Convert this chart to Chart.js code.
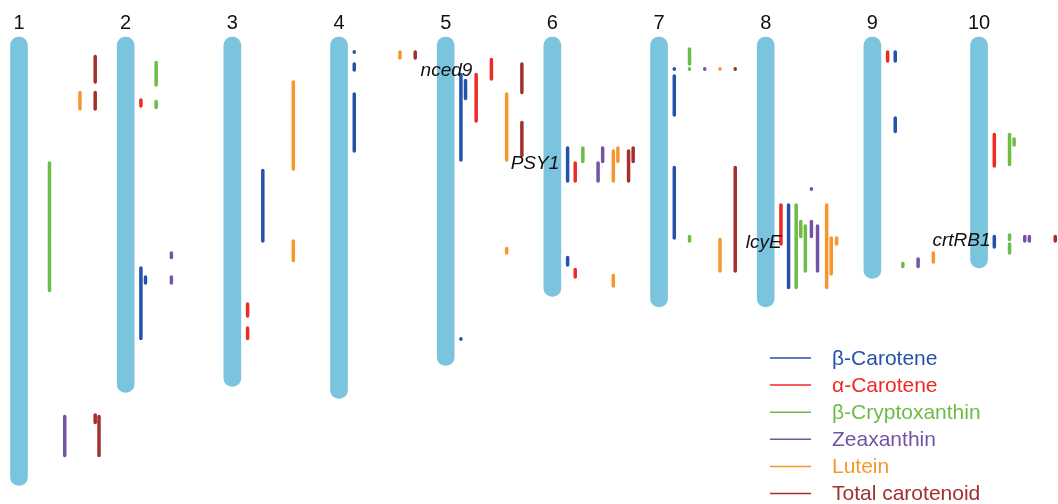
<!DOCTYPE html>
<html>
<head>
<meta charset="utf-8">
<script src="https://cdn.jsdelivr.net/npm/chart.js@4.4.1/dist/chart.umd.min.js"></script>
<style>
html,body{margin:0;padding:0;background:#fff;}
#wrap{width:1058px;height:504px;position:relative;}
</style>
</head>
<body>
<div id="wrap"><canvas id="c"></canvas></div>
<script>
// Chromosomes (names and lengths in map units, top = 0)
const chromosomes = ['1','2','3','4','5','6','7','8','9','10'];
const chromosomeLength = [299, 237, 233, 241, 219, 173, 180, 180, 161, 154];

// QTL intervals per trait: [chromosome, column, start, end]
const betaCarotene = [
  [2,1,154,201],[2,1.3,160,164],[3,2,89,136],[4,1,9.8,10.2],[4,1,18,22],[4,1,38,76],
  [5,1,25,82],[5,1.3,29,41],[5,1,201.1,201.5],[6,1,74,96],[6,1,147,152],
  [7,1,21.1,21.5],[7,1,26,52],[7,1,87,134],[8,1.5,112,167],[9,1.5,10,16],[9,1.5,54,63],[10,1,133,140]
];
const alphaCarotene = [
  [2,1,42,46],[3,1,178,186],[3,1,194,201],[5,2,25,56],[5,3,15,28],[6,1.5,84,96],[6,1.5,155,160],
  [8,1,112,138],[9,1,10,16],[10,1,65,86]
];
const betaCryptoxanthin = [
  [1,2,84,169],[2,2,17,32],[2,2,43,47],[6,2,74,83],[7,2,8,18],[7,2,21.1,21.5],[7,2,133,136],
  [8,2,112,167],[8,2.3,123,133],[8,2.6,126,156],[9,2,151,153],[10,2,65,85],[10,2.3,68,72],
  [10,2,132,135],[10,2,138,144]
];
const zeaxanthin = [
  [1,3,253,279],[2,3,144,147],[2,3,160,164],[6,3,84,96],[6,3.3,74,83],[7,3,21.1,21.5],
  [8,3,101.1,101.5],[8,3,123,133],[8,3.4,126,156],[9,3,148,153],[10,3,133,136],[10,3.3,133,136]
];
const lutein = [
  [1,4,37,48],[3,4,30,88],[3,4,136,149],[5,-3,10,14],[5,4,38,82],[5,4,141,144],[6,4,76,96],
  [6,4.3,74,83],[6,4,159,166],[7,4,21.1,21.5],[7,4,135,156],[8,4,112,167],[8,4.3,134,158],
  [8,4.65,134,138],[9,4,144,150]
];
const totalCarotenoid = [
  [1,5,13,30],[1,5,37,48],[1,5,252,257],[1,5.25,253,279],[5,-2,10,14],[5,5,18,37],[5,5,57,79],
  [6,5,76,96],[6,5.3,74,83],[7,5,21.1,21.5],[7,5,87,156],[10,5,133,136]
];

const traitNames = ['β-Carotene','α-Carotene','β-Cryptoxanthin','Zeaxanthin','Lutein','Total carotenoid'];
const traitData = [betaCarotene, alphaCarotene, betaCryptoxanthin, zeaxanthin, lutein, totalCarotenoid];
const traitColors = ['#2451ab','#ee2a24','#6bbd45','#7552a6','#f6972e','#a2302f'];

// Candidate genes: [name, chromosome, right-edge column, position]
const genes = [
  ['nced9', 5, 1.75, 22.5],
  ['PSY1', 6, 0.45, 84.5],
  ['lcyE', 8, 1.05, 137],
  ['crtRB1', 10, 0.75, 136]
];

const laneStep = 1/7;

const chromDataset = {
  type: 'bar',
  label: 'chromosomes',
  data: chromosomes.map((c, i) => ({x: i + 1, y: [0, chromosomeLength[i]]})),
  backgroundColor: '#7ac4de',
  borderWidth: 0,
  borderRadius: 9,
  borderSkipped: false,
  barThickness: 17,
  order: 10
};

const qtlDatasets = traitData.map((arr, t) => {
  const pts = [];
  arr.forEach(([chr, lane, s, e]) => {
    const x = chr + lane * laneStep;
    pts.push({x, y: s}, {x, y: e}, {x, y: null});
  });
  return {
    type: 'scatter',
    label: traitNames[t],
    data: pts,
    showLine: true,
    spanGaps: false,
    borderColor: traitColors[t],
    backgroundColor: traitColors[t],
    borderWidth: 3.5,
    borderCapStyle: 'round',
    pointRadius: 0,
    pointHoverRadius: 0,
    order: 1
  };
});

const labelPlugin = {
  id: 'labels',
  afterDatasetsDraw(chart) {
    const {ctx, scales: {x, y}} = chart;
    ctx.save();
    // chromosome numbers
    ctx.fillStyle = '#111';
    ctx.font = '20px "Liberation Sans", Arial, sans-serif';
    ctx.textAlign = 'center';
    ctx.textBaseline = 'middle';
    chromosomes.forEach((c, i) => {
      ctx.fillText(c, x.getPixelForValue(i + 1), y.getPixelForValue(-9.2));
    });
    // gene names
    ctx.font = 'italic 19px "Liberation Sans", Arial, sans-serif';
    ctx.textAlign = 'right';
    genes.forEach(([name, chr, lane, pos]) => {
      ctx.fillText(name, x.getPixelForValue(chr + lane * laneStep), y.getPixelForValue(pos));
    });
    // legend
    const lx = 770, ly = 358, gap = 27.1;
    ctx.font = '21px "Liberation Sans", Arial, sans-serif';
    ctx.textAlign = 'left';
    chart.data.datasets.slice(1).forEach((ds, i) => {
      const yy = ly + i * gap;
      ctx.strokeStyle = ds.borderColor;
      ctx.lineWidth = 1.5;
      ctx.beginPath();
      ctx.moveTo(lx, yy);
      ctx.lineTo(lx + 41, yy);
      ctx.stroke();
      ctx.fillStyle = ds.borderColor;
      ctx.fillText(ds.label, lx + 62, yy + 1);
    });
    ctx.restore();
  }
};

new Chart(document.getElementById('c'), {
  type: 'scatter',
  data: { datasets: [chromDataset, ...qtlDatasets] },
  options: {
    responsive: true,
    maintainAspectRatio: false,
    animation: false,
    layout: { padding: 0 },
    plugins: { legend: { display: false }, tooltip: { enabled: false } },
    scales: {
      x: { type: 'linear', min: 0.8219, max: 10.740, display: false, offset: false },
      y: { type: 'linear', min: -24.667, max: 311.333, reverse: true, display: false }
    }
  },
  plugins: [labelPlugin]
});
</script>
</body>
</html>
